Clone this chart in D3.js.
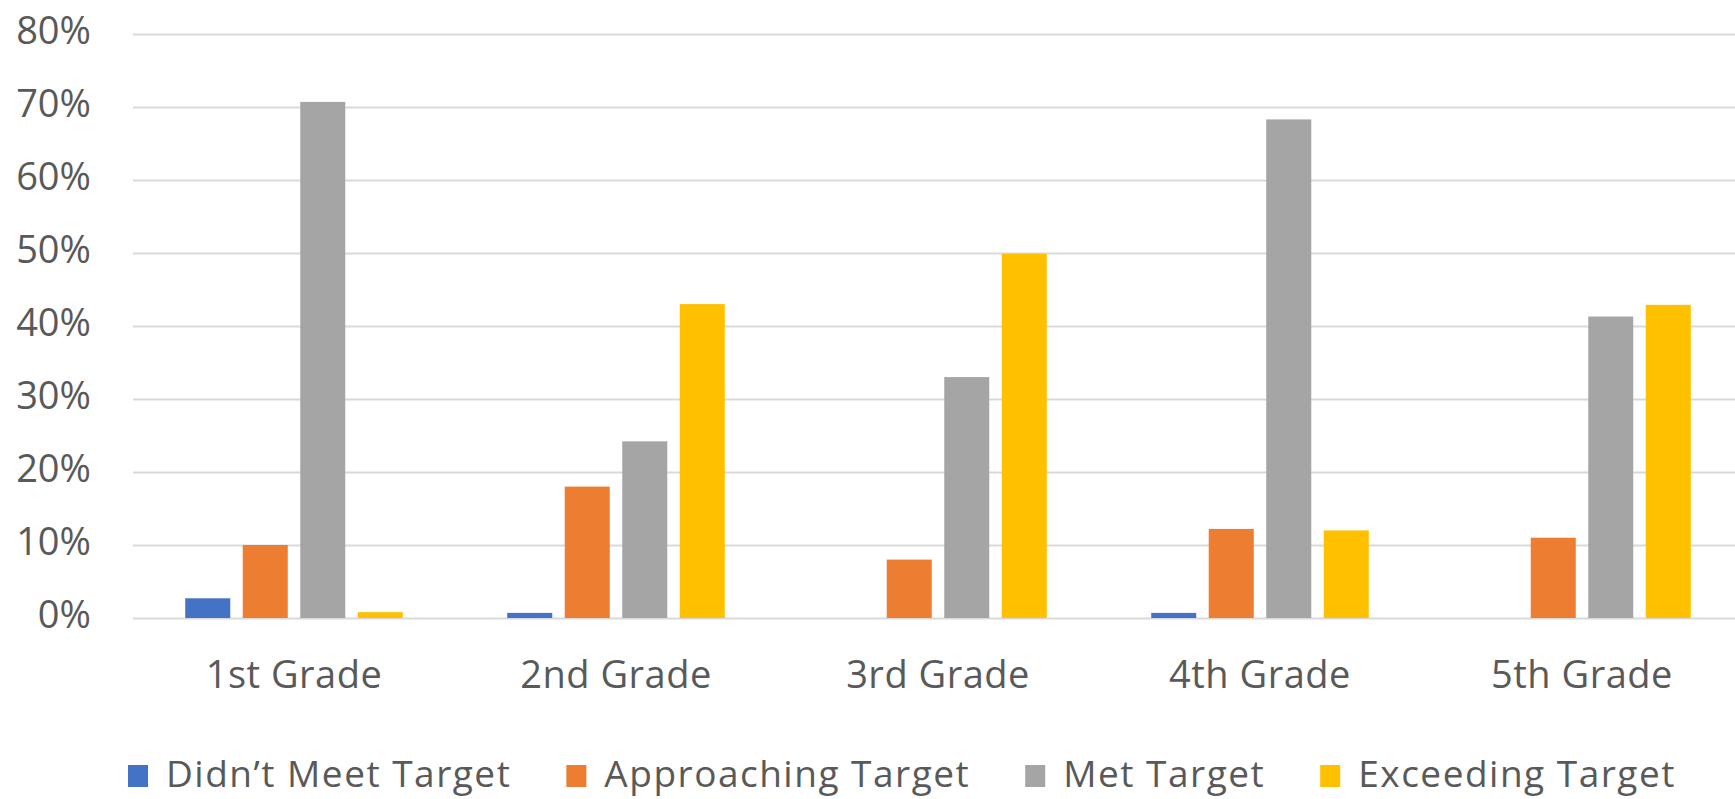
<!DOCTYPE html>
<html>
<head>
<meta charset="utf-8">
<script src="https://cdn.jsdelivr.net/npm/d3@7"></script>
<style>
  html, body { margin: 0; padding: 0; background: #fff; overflow: hidden; }
  text { font-family: "Open Sans", sans-serif; fill: #595959; }
</style>
</head>
<body>
<div id="chart"></div>
<script>
const grades = ["1st Grade", "2nd Grade", "3rd Grade", "4th Grade", "5th Grade"];
const seriesNames = ["Didn\u2019t Meet Target", "Approaching Target", "Met Target", "Exceeding Target"];
const didntMeet   = [2.7, 0.7, 0, 0.7, 0];
const approaching = [10, 18, 8, 12.2, 11];
const met         = [70.7, 24.2, 33, 68.3, 41.3];
const exceeding   = [0.8, 43, 49.9, 12, 42.9];
const yTicks = [0, 10, 20, 30, 40, 50, 60, 70, 80];
const colors = ["#4472C4", "#ED7D31", "#A5A5A5", "#FFC000"];

const W = 1735, H = 799;
const margin = {top: 34, right: -8, bottom: 181, left: 133},
    width = W - margin.left - margin.right,
    height = H - margin.top - margin.bottom;

const svg = d3.select("#chart")
    .append("svg")
    .attr("width", W)
    .attr("height", H);

const g = svg.append("g")
    .attr("transform", "translate(" + margin.left + "," + margin.top + ")");

const values = [didntMeet, approaching, met, exceeding];
const rows = grades.map((gr, i) => ({grade: gr, vals: values.map((s, j) => ({key: seriesNames[j], v: s[i], c: colors[j]}))}));

// scales
const x0 = d3.scaleBand().domain(grades).range([0, width]).padding(0);
const x1 = d3.scaleBand().domain(seriesNames).range([0, x0.bandwidth()])
    .paddingInner(0.217).paddingOuter(0.908);
const y = d3.scaleLinear().domain([0, 80]).range([height, 0]);

// gridlines + y labels
const yAxis = g.append("g")
    .call(d3.axisLeft(y).tickValues(yTicks).tickSize(-width - 10).tickFormat(d => d + "%"));
yAxis.select(".domain").remove();
yAxis.selectAll("line").attr("stroke", "#d9d9d9").attr("stroke-width", 2);
yAxis.selectAll("text")
    .attr("x", -42)
    .attr("dy", "0.24em")
    .style("font-size", "38px")
    .style("fill", "#595959");

// bars
const groups = g.selectAll(".grp")
    .data(rows)
    .enter()
    .append("g")
    .attr("transform", d => "translate(" + x0(d.grade) + ",0)");

groups.selectAll("rect")
    .data(d => d.vals)
    .enter()
    .append("rect")
    .attr("x", d => x1(d.key))
    .attr("width", x1.bandwidth())
    .attr("y", d => y(d.v))
    .attr("height", d => y(0) - y(d.v))
    .attr("fill", d => d.c);

// x labels
const xAxis = g.append("g")
    .attr("transform", "translate(0," + height + ")")
    .call(d3.axisBottom(x0).tickSize(0));
xAxis.select(".domain").remove();
xAxis.selectAll("text")
    .attr("y", 70)
    .attr("dy", 0)
    .style("font-size", "38px")
    .style("letter-spacing", "0.5px")
    .style("fill", "#595959");

// legend
const legend = svg.append("g").attr("transform", "translate(128,787)");
let lx = 0;
seriesNames.forEach((name, i) => {
    const item = legend.append("g").attr("transform", "translate(" + lx + ",0)");
    item.append("rect")
        .attr("x", 0).attr("y", -22)
        .attr("width", 20).attr("height", 22)
        .attr("fill", colors[i]);
    const t = item.append("text")
        .attr("x", 38)
        .attr("y", 0)
        .style("font-size", "37px")
        .style("letter-spacing", "1.5px")
        .text(name);
    lx += 38 + t.node().getComputedTextLength() + 55;
});
</script>
</body>
</html>
